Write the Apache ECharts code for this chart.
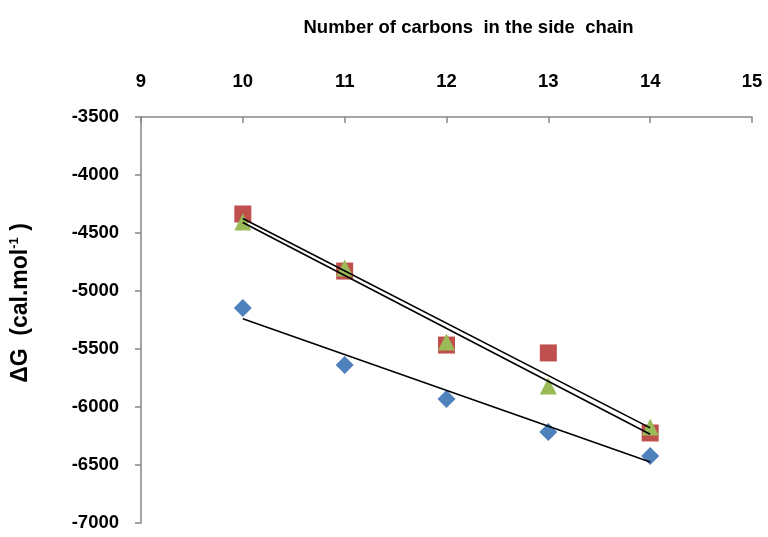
<!DOCTYPE html>
<html><head><meta charset="utf-8">
<script src="https://cdn.jsdelivr.net/npm/echarts@6/dist/echarts.min.js"></script>
<style>html,body{margin:0;padding:0;background:#fff}#c{width:768px;height:537px}</style>
</head><body><div id="c"></div>
<script>
var carbons = [10, 11, 12, 13, 14];
var seriesBlue = [-5147, -5638, -5931, -6216, -6422];
var seriesRed = [-4336, -4828, -5466, -5534, -6224];
var seriesGreen = [-4405, -4802, -5440, -5819, -6172];
var trendBlue = [[10, -5240], [14, -6475]];
var trendRed = [[10, -4375], [14, -6180]];
var trendGreen = [[10, -4410], [14, -6235]];
var xTitle = 'Number of carbons  in the side  chain';

function pts(vals) { return carbons.map(function (c, i) { return [c, vals[i]]; }); }

var chart = echarts.init(document.getElementById('c'));
var lbl = { fontFamily: 'Liberation Sans', fontWeight: 'bold', fontSize: 18.5, color: '#000', formatter: function (v) { return String(v); } };
chart.setOption({
  animation: false,
  grid: { left: 140, right: 16, top: 117, bottom: 14 },
  xAxis: {
    type: 'value', position: 'top', min: 9, max: 15, interval: 1,
    name: xTitle, nameLocation: 'middle', nameGap: 80,
    nameTextStyle: { fontFamily: 'Liberation Sans', fontWeight: 'bold', fontSize: 18.5, color: '#000', padding: [0, 0, 0, 44] },
    axisLine: { show: true, lineStyle: { color: '#868686', width: 1.5 } },
    axisTick: { show: true, inside: true, length: 6, lineStyle: { color: '#868686', width: 1.5 } },
    axisLabel: Object.assign({ margin: 26 }, lbl),
    splitLine: { show: false }
  },
  yAxis: {
    type: 'value', min: -7000, max: -3500, interval: 500,
    name: '{a|ΔG  (cal.mol}{s|-1}{a| )}', nameLocation: 'middle', nameRotate: 90, nameGap: 108,
    nameTextStyle: { padding: [0, 0, 0, 34], rich: {
      a: { fontFamily: 'Liberation Sans', fontWeight: 'bold', fontSize: 23, color: '#000' },
      s: { fontFamily: 'Liberation Sans', fontWeight: 'bold', fontSize: 13, color: '#000', verticalAlign: 'top', padding: [0, 0, 12, 0] }
    } },
    axisLine: { show: true, onZero: false, lineStyle: { color: '#868686', width: 1.5 } },
    axisTick: { show: true, length: 6, lineStyle: { color: '#868686', width: 1.5 } },
    axisLabel: Object.assign({ margin: 22 }, lbl),
    splitLine: { show: false }
  },
  series: [
    { type: 'scatter', data: pts(seriesBlue), symbol: 'diamond', symbolSize: 18, itemStyle: { color: '#4F81BD', opacity: 1 }, z: 2 },
    { type: 'scatter', data: pts(seriesRed), symbol: 'rect', symbolSize: 17, itemStyle: { color: '#C0504D', opacity: 1 }, z: 2 },
    { type: 'scatter', data: pts(seriesGreen), symbol: 'triangle', symbolSize: 17, itemStyle: { color: '#9BBB59', opacity: 1 }, z: 3 },
    { type: 'line', data: trendBlue, symbol: 'none', lineStyle: { color: '#000', width: 1.6 }, z: 5 },
    { type: 'line', data: trendRed, symbol: 'none', lineStyle: { color: '#000', width: 1.6 }, z: 5 },
    { type: 'line', data: trendGreen, symbol: 'none', lineStyle: { color: '#000', width: 1.6 }, z: 5 }
  ]
});
</script></body></html>
